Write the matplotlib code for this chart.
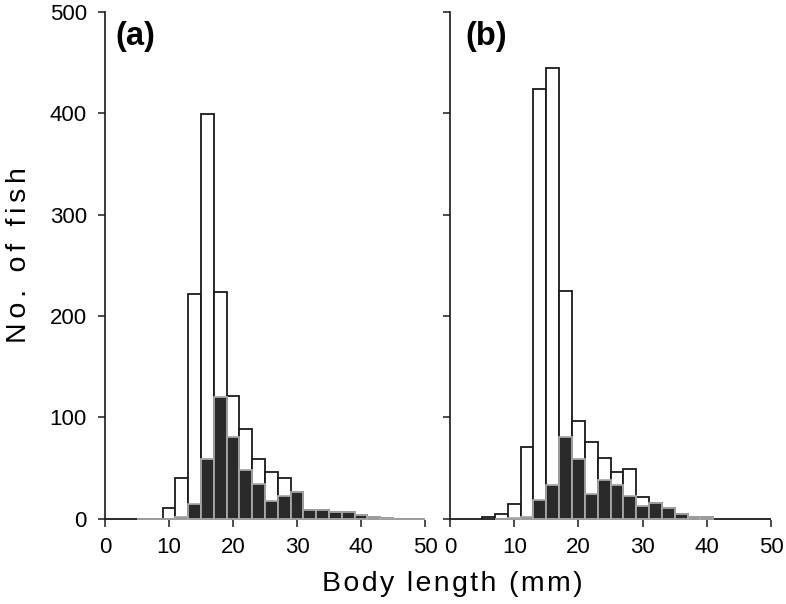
import numpy as np
import matplotlib
matplotlib.use("Agg")
import matplotlib.pyplot as plt

# bin centres (2 mm bins, edges at odd values)
centers = [0, 2, 4, 6, 8, 10, 12, 14, 16, 18, 20, 22, 24, 26, 28, 30,
           32, 34, 36, 38, 40, 42, 44, 46, 48, 50]

# Panel (a)
a_total = [0, 0, 0, 0, 0, 11, 40, 222, 399, 224, 121, 89, 59, 46, 40, 26,
           9, 9, 7, 7, 4, 2, 1, 0, 0, 0]
a_filled_centers = [6, 8, 10, 12, 14, 16, 18, 20, 22, 24, 26, 28, 30,
                    32, 34, 36, 38, 40, 42, 44, 46, 48, 50]
a_filled = [0, 0, 0, 2, 15, 59, 120, 81, 48, 34, 18, 22, 26,
            9, 9, 7, 7, 4, 2, 0.5, 0, 0, 0]

# Panel (b)
b_total = [0, 0, 0, 1.5, 5, 15, 71, 424, 445, 225, 96, 76, 60, 46, 49, 21,
           16, 10.5, 4.5, 2, 1.5, 0, 0, 0, 0, 0]
b_filled_centers = [8, 10, 12, 14, 16, 18, 20, 22, 24, 26, 28, 30,
                    32, 34, 36, 38, 40]
b_filled = [0, 0.5, 2, 18.5, 33.5, 81, 59, 24, 38, 33, 22.5, 13,
            16, 10.5, 4.5, 2, 1.5]

xticks = [0, 10, 20, 30, 40, 50]
yticks = [0, 100, 200, 300, 400, 500]

plt.rcParams['font.family'] = ['Liberation Sans', 'DejaVu Sans']

fig = plt.figure(figsize=(7.86, 6.04), dpi=100)
W, H = 786, 604
ax_a = fig.add_axes([105 / W, 1 - 520 / H, 320 / W, 508 / H])
ax_b = fig.add_axes([450 / W, 1 - 520 / H, 321 / W, 508 / H])

EDGE_OPEN = '#1a1a1a'
EDGE_FILL = '#a8a8a8'
FILL = '#2a2a2a'

def draw(ax, total, fc, fv, label, lx, show_ylabels):
    ax.bar(centers, total, width=2, color='white', edgecolor=EDGE_OPEN,
           linewidth=1.3, zorder=2)
    ax.bar(fc, fv, width=2, color=FILL, edgecolor=EDGE_FILL,
           linewidth=1.3, zorder=3)
    ax.set_xlim(0, 50)
    ax.set_ylim(-1.2, 500)
    ax.set_xticks(xticks)
    ax.set_yticks(yticks)
    for s in ['top', 'right', 'bottom']:
        ax.spines[s].set_visible(False)
    ax.spines['left'].set_color('#1a1a1a')
    ax.spines['left'].set_linewidth(1.2)
    ax.spines['left'].set_bounds(0, 500)
    ax.tick_params(direction='out', length=5, width=1.1, color='#1a1a1a',
                   labelsize=16, pad=7)
    ax.tick_params(axis='y', pad=8)
    if not show_ylabels:
        ax.set_yticklabels([])
    ax.text(lx, 0.982, label, transform=ax.transAxes, va='top', ha='left',
            fontsize=23.5, fontweight='bold')

draw(ax_a, a_total, a_filled_centers, a_filled, '(a)', 0.031, True)
draw(ax_b, b_total, b_filled_centers, b_filled, '(b)', 0.047, False)

sp = '\u200a'
fig.text(452 / W, 1 - 584 / H, sp.join('Body length (mm)'), ha='center',
         va='center', fontsize=20.5)
fig.text(19 / W, 1 - 255 / H, (sp * 2).join('No. of fish'), ha='center',
         va='center', fontsize=20.5, rotation=90)

fig.savefig('out.png', dpi=100)
